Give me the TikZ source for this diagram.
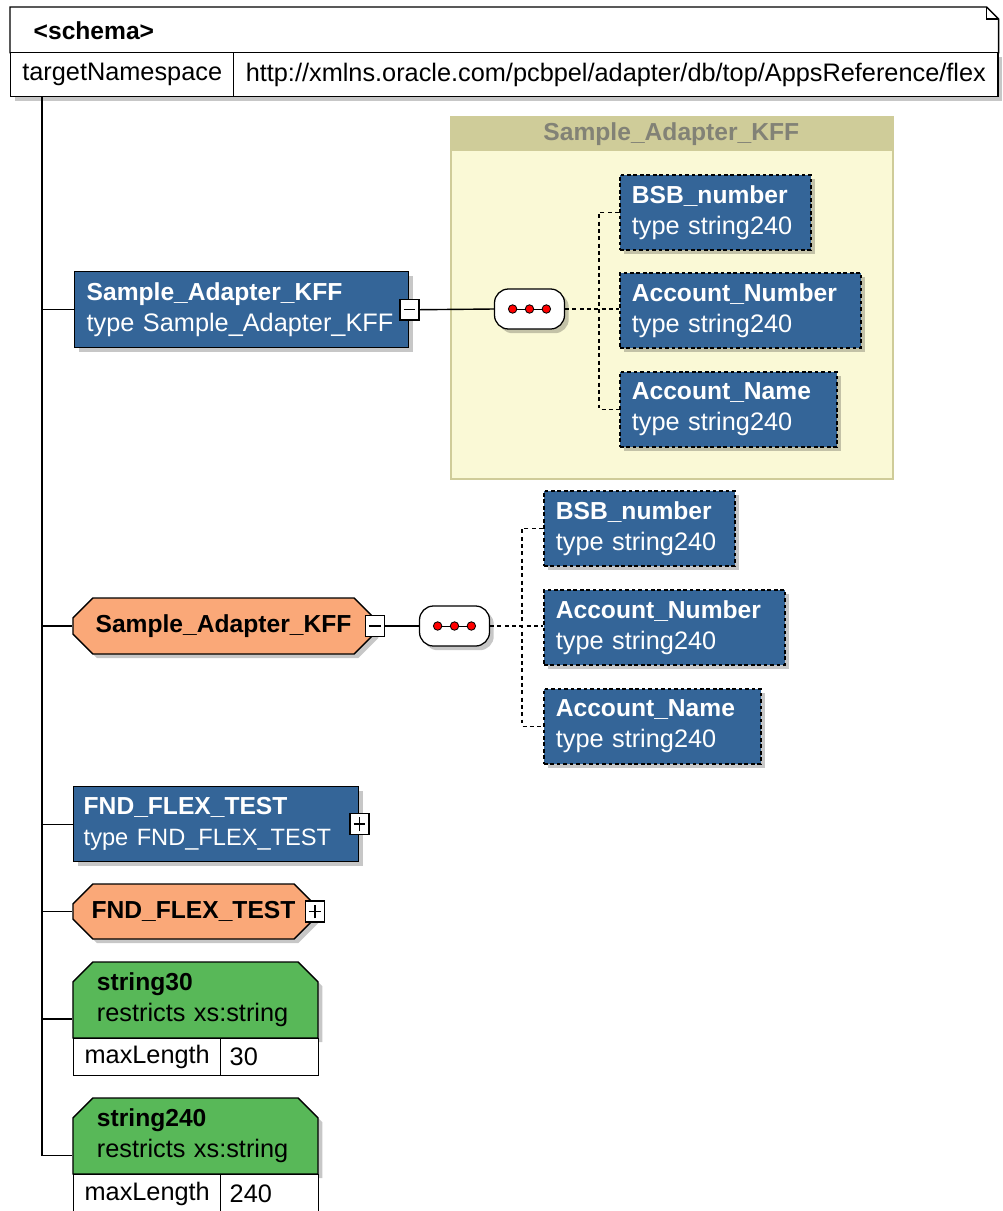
\documentclass[tikz,border=0pt]{standalone}
\usepackage{fontspec}
\setmainfont{Liberation Sans}
\usepackage{xcolor}
\definecolor{xsdblue}{RGB}{52,101,152}
\definecolor{xsdorange}{RGB}{250,168,120}
\definecolor{xsdgreen}{RGB}{88,184,88}
\definecolor{xsdcream}{RGB}{250,249,214}
\definecolor{xsdkhaki}{RGB}{207,204,153}
\definecolor{xsdtitle}{RGB}{130,130,118}
\usetikzlibrary{positioning,shapes.misc,calc,shadows,fit}
\newcommand{\rg}{\fontsize{18}{22}\selectfont}
\newcommand{\hd}[1]{{\fontsize{17.5}{22}\selectfont\bfseries #1}}
\tikzset{
  boxshadow/.style={drop shadow={shadow xshift=3pt, shadow yshift=-3pt, opacity=.22, fill=black}},
  elem/.style={rectangle, draw=black, line width=1pt, fill=xsdblue, text=white, anchor=north west, align=left, inner xsep=0.3cm, inner ysep=0pt, font=\rg, boxshadow},
  elemopt/.style={elem, line width=1.2pt, dash pattern=on 2.6pt off 2pt},
  gelem/.style={chamfered rectangle, chamfered rectangle xsep=0.25cm, chamfered rectangle ysep=0.25cm, draw=black, line width=1pt, fill=xsdorange, align=center, inner ysep=0pt, font=\rg, boxshadow},
  stype/.style={chamfered rectangle, chamfered rectangle corners={north west,north east}, chamfered rectangle xsep=0.25cm, chamfered rectangle ysep=0.25cm, draw=black, line width=1pt, fill=xsdgreen, align=left, inner xsep=0.35cm, inner ysep=0pt, font=\rg, boxshadow},
  cell/.style={rectangle, draw=black, line width=1pt, fill=white, anchor=north west, inner xsep=2pt, inner ysep=0pt, font=\rg},
  togminus/.style={rectangle, draw, fill=white, line width=0.9pt, inner sep=0pt, minimum width=0.47cm, minimum height=0.52cm,
    path picture={\draw[line width=1.1pt] ([xshift=2.5pt]path picture bounding box.west) -- ([xshift=-2.5pt]path picture bounding box.east);}},
  togplus/.style={rectangle, draw, fill=white, line width=0.9pt, inner sep=0pt, minimum width=0.47cm, minimum height=0.52cm,
    path picture={\draw[line width=1.1pt] ([xshift=2.5pt]path picture bounding box.west) -- ([xshift=-2.5pt]path picture bounding box.east);
      \draw[line width=1.1pt] ([yshift=2.5pt]path picture bounding box.south) -- ([yshift=-2.5pt]path picture bounding box.north);}},
  seqbox/.style={rectangle, rounded corners=0.35cm, draw, line width=0.9pt, fill=white, minimum width=1.75cm, minimum height=1cm, boxshadow,
    path picture={
      \draw[line width=0.7pt] ([xshift=-12pt]path picture bounding box.center) -- ([xshift=12pt]path picture bounding box.center);
      \foreach \dx in {-12pt,0pt,12pt}
        \filldraw[fill=red, line width=0.6pt] ([xshift=\dx]path picture bounding box.center) circle (3pt);}},
  link/.style={line width=1pt},
  optlink/.style={line width=1pt, dash pattern=on 2.8pt off 2.4pt}
}

\begin{document}
\begin{tikzpicture}[x=0.025cm, y=-0.025cm]
  \fill[white] (0,0) rectangle (1002,1211);
  \useasboundingbox (0,0) rectangle (1002,1211);

  % Schema header
  \node[cell, draw=none, minimum width=24.675cm, minimum height=1.125cm, text width=23.525cm, align=left, inner xsep=0.575cm] (schema) at (10,7) {\hd{<schema>}};
  \draw[line width=1pt] (schema.south west) |- ($(schema.north east)+(-12,0)$) -- ++(12,12) |- (schema.south east);
  \draw[line width=0.8pt] ($(schema.north east)+(-12,0)$) |- ++(12,12);
  \node[cell, boxshadow, minimum width=5.575cm, minimum height=1.1cm] (tns) at (10,52) {targetNamespace};
  \node[cell, boxshadow, minimum width=19.1cm, minimum height=1.1cm] (tnsval) at (233,52) {http://xmlns.oracle.com/pcbpel/adapter/db/top/AppsReference/flex};
  \coordinate (trunk) at (42,96);

  % Complex type box
  \node[rectangle, draw=xsdkhaki, line width=1.5pt, fill=xsdcream, anchor=north west, minimum width=11.05cm, minimum height=9.05cm] (cplx) at (450,116) {};
  \node[rectangle, fill=xsdkhaki, anchor=north west, minimum width=11.05cm, minimum height=0.875cm, inner sep=0pt, text=xsdtitle] (cplxhd) at (450,116) {\hd{Sample\_Adapter\_KFF}};

  % Element 1: Sample_Adapter_KFF
  \node[elem, text width=7.75cm, minimum height=1.9cm] (e1) at (74,271) {\hd{Sample\_Adapter\_KFF}\\type Sample\_Adapter\_KFF};
  \node[togminus] (m1) at (e1.east) {};
  \node[seqbox] (seq1) at (529.5,309) {};
  \coordinate (j1) at ($(seq1.east)+(34,0)$);
  \node[elemopt, text width=4.175cm, minimum height=1.875cm] (c1a) at (619,174) {\hd{BSB\_number}\\type string240};
  \node[elemopt, text width=5.425cm, minimum height=1.875cm] (c1b) at (619,272) {\hd{Account\_Number}\\type string240};
  \node[elemopt, text width=4.825cm, minimum height=1.875cm] (c1c) at (619,371) {\hd{Account\_Name}\\type string240};

  % Element 2: Sample_Adapter_KFF (global)
  \node[gelem, minimum width=7.525cm, minimum height=1.4cm] (o1) at (223.5,626) {\hd{Sample\_Adapter\_KFF}};
  \node[togminus] (m2) at (o1.east) {};
  \node[seqbox] (seq2) at (454.5,626) {};
  \coordinate (j2) at ($(seq2.east)+(32,0)$);
  \node[elemopt, text width=4.175cm, minimum height=1.875cm] (c2a) at (543,490) {\hd{BSB\_number}\\type string240};
  \node[elemopt, text width=5.425cm, minimum height=1.875cm] (c2b) at (543,589) {\hd{Account\_Number}\\type string240};
  \node[elemopt, text width=4.825cm, minimum height=1.875cm] (c2c) at (543,688) {\hd{Account\_Name}\\type string240};

  % Element 3 and 4: FND_FLEX_TEST
  \node[elem, text width=6.625cm, inner xsep=0.25cm, minimum height=1.875cm] (e2) at (73,786) {\hd{FND\_FLEX\_TEST}\\{\fontsize{16.8}{22}\selectfont type FND\_FLEX\_TEST}};
  \node[togplus] (p1) at (e2.east) {};
  \node[gelem, minimum width=6.025cm, minimum height=1.375cm] (o2) at (193.5,911.5) {\hd{FND\_FLEX\_TEST}};
  \node[togplus] (p2) at (o2.east) {};

  % Simple types
  \node[stype, text width=4.925cm, minimum height=1.9cm] (g1) at (195.5,1000) {\hd{string30}\\restricts xs:string};
  \node[cell, minimum width=3.675cm, minimum height=0.925cm] (t1k) at (73,1038) {maxLength};
  \node[cell, text width=2cm, align=left, inner xsep=0.225cm, minimum height=0.925cm] (t1v) at (220,1038) {30};
  \node[fit=(g1)(t1k)(t1v), inner sep=0pt] (st30) {};
  \node[stype, text width=4.925cm, minimum height=1.9cm] (g2) at (195.5,1136) {\hd{string240}\\restricts xs:string};
  \node[cell, minimum width=3.675cm, minimum height=0.95cm] (t2k) at (73,1174) {maxLength};
  \node[cell, text width=2cm, align=left, inner xsep=0.225cm, minimum height=0.95cm] (t2v) at (220,1174) {240};
  \node[fit=(g2)(t2k)(t2v), inner sep=0pt] (st240) {};

  % Connectors
  \draw[link] (trunk) |- (e1.west);
  \draw[link] (trunk) |- (o1.west);
  \draw[link] (trunk) |- (e2.west);
  \draw[link] (trunk) |- (o2.west);
  \draw[link] (trunk) |- (st30.west);
  \draw[link] (trunk) |- (st240.west);
  \draw[link] (m1.east) -- (seq1.west);
  \draw[link] (m2.east) -- (seq2.west);
  \draw[optlink] (seq1.east) -- (seq1.east -| c1b.west);
  \draw[optlink] (c1a.west) -| (j1) |- (c1c.west);
  \draw[optlink] (seq2.east) -- (seq2.east -| c2b.west);
  \draw[optlink] (c2a.west) -| (j2) |- (c2c.west);
\end{tikzpicture}
\end{document}
